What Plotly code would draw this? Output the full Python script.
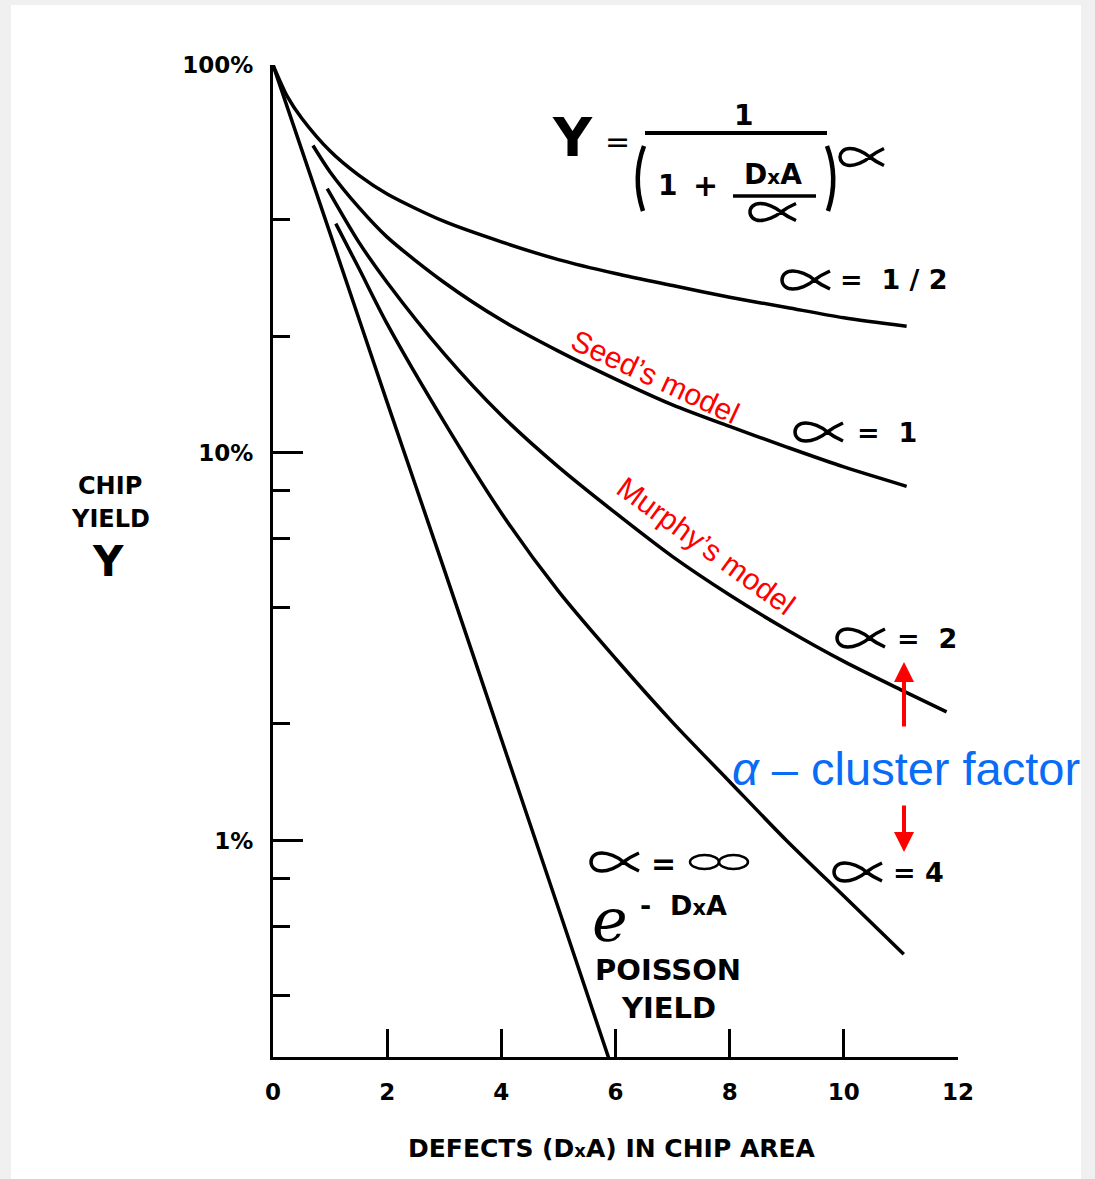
import plotly.graph_objects as go

# ---- data: chip yield (%) versus defects in chip area (D x A) ----
da_half = [0, 0.25, 0.5, 1, 1.5, 2, 3, 4, 5, 6, 7, 8, 9, 10, 11.1]
yield_half = [100, 83, 73, 60, 52, 46.5, 39.5, 35, 31.5, 29, 27, 25.2, 23.7, 22.3, 21.2]

da_one = [0.7, 1, 1.5, 2, 3, 4, 5, 6, 7, 8, 9, 10, 11.1]
yield_one = [62, 53, 43, 36, 27.5, 22, 18.3, 15.5, 13.3, 11.7, 10.35, 9.2, 8.2]

da_two = [0.95, 1.5, 2, 3, 4, 5, 6, 7, 8, 9, 10, 11, 11.8]
yield_two = [48, 35, 27.5, 18, 12.5, 9.2, 7.0, 5.4, 4.3, 3.5, 2.9, 2.45, 2.15]

da_four = [1.1, 1.5, 2, 3, 4, 5, 6, 7, 8, 9, 10, 11.05]
yield_four = [39, 30, 21.5, 12, 7.0, 4.4, 2.95, 2.02, 1.42, 1.0, 0.72, 0.51]

da_poisson = [0, 1, 2, 3, 4, 5, 5.9]
yield_poisson = [100, 36.8, 13.5, 5.0, 1.83, 0.67, 0.27]

x_tickvals = [0, 2, 4, 6, 8, 10, 12]
x_ticktext = ["0", "2", "4", "6", "8", "10", "12"]
y_tickvals = [1, 10, 100]
y_ticktext = ["1%", "10%", "100%"]
y_minorvals = [0.4, 0.6, 0.8, 2, 4, 6, 8, 20, 40]

# ---- page geometry ----
W, H = 1095, 1179
L, R, T, B = 273, 137, 65, 122
PW, PH = W - L - R, H - T - B


def px(x):
    return (x - L) / PW


def py(y):
    return (H - B - y) / PH


BOLD = "DejaVu Sans"
SANS = "Liberation Sans, Arial, sans-serif"

fig = go.Figure()

curves = [
    (da_half, yield_half),
    (da_one, yield_one),
    (da_two, yield_two),
    (da_four, yield_four),
    (da_poisson, yield_poisson),
]
for xs, ys in curves:
    fig.add_trace(go.Scatter(
        x=xs, y=ys, mode="lines",
        line=dict(color="black", width=3.5, shape="spline", smoothing=0.8),
        showlegend=False, hoverinfo="skip",
    ))

annotations = []
shapes = []


def label(text, x, y, size, color="black", family=BOLD, weight="bold", angle=0, anchor="center"):
    annotations.append(dict(
        text=text, x=px(x), y=py(y), xref="paper", yref="paper",
        xanchor=anchor, yanchor="middle", showarrow=False, textangle=angle,
        font=dict(family=family, size=size, color=color, weight=weight),
    ))


def alpha_glyph(cx, cy, w=48, h=18, lw=3.5):
    """Hand-drawn style 'proportional' alpha: a loop on the left, crossed tails on the right."""
    a, b = w / 2, h / 2
    xc = 0.35 * a
    path = (
        f"M {a},{b} Q {0.62 * a},{0.55 * b} {xc},0 "
        f"C {0.1 * a},{-0.6 * b} {-0.3 * a},{-b} {-0.55 * a},{-b} "
        f"C {-0.85 * a},{-b} {-a},{-0.5 * b} {-a},0 "
        f"C {-a},{0.5 * b} {-0.85 * a},{b} {-0.55 * a},{b} "
        f"C {-0.3 * a},{b} {0.1 * a},{0.6 * b} {xc},0 "
        f"Q {0.62 * a},{-0.55 * b} {a},{-b}"
    )
    shapes.append(dict(
        type="path", xref="paper", yref="paper",
        xsizemode="pixel", ysizemode="pixel", xanchor=px(cx), yanchor=py(cy),
        path=path, line=dict(color="black", width=lw),
    ))


def infinity_glyph(cx, cy, w=58, h=14, lw=2.5):
    half = w / 2
    for x0, x1 in [(-half, 0), (0, half)]:
        shapes.append(dict(
            type="circle", xref="paper", yref="paper",
            xsizemode="pixel", ysizemode="pixel", xanchor=px(cx), yanchor=py(cy),
            x0=x0, x1=x1, y0=-h / 2, y1=h / 2, line=dict(color="black", width=lw),
        ))


# formula  Y = 1 / (1 + DxA/alpha)^alpha
label("Y", 572, 137, 54)
label("=", 617, 141, 30, weight="normal")
label("1", 743, 116, 28)
label("1", 667, 186, 28)
label("+", 705, 186, 30)
label("D<span style='font-size:20px'>x</span>A", 773, 174, 28)
alpha_glyph(773, 212, 46, 17)
alpha_glyph(862, 157, 44, 17)

# curve labels
alpha_glyph(806, 280)
label("=  1 / 2", 838, 280, 27, anchor="left")
alpha_glyph(819, 432)
label("=  1", 855, 432, 27, anchor="left")
alpha_glyph(861, 638)
label("=  2", 895, 638, 27, anchor="left")
alpha_glyph(858, 872)
label("= 4", 891, 872, 27, anchor="left")
alpha_glyph(615, 862)
label("=", 663, 863, 30)
infinity_glyph(719, 862)
label("ℯ", 610, 920, 60, weight="normal")
label("-  D<span style='font-size:21px'>x</span>A", 683, 905, 27)
label("POISSON", 668, 970, 29)
label("YIELD", 668, 1008, 29)

# axis titles
label("CHIP", 110, 486, 24)
label("YIELD", 110, 519, 24)
label("Y", 108, 561, 42)
label("DEFECTS (D<span style='font-size:18px'>x</span>A) IN CHIP AREA", 612, 1148, 25)

# model names
label("Seed’s model", 655, 376, 30, color="#ff0000", family=SANS, weight="normal", angle=25)
label("Murphy’s model", 706, 545, 30, color="#ff0000", family=SANS, weight="normal", angle=36)
label("<i>α</i> – cluster factor", 906, 768, 47, color="#0a6cf5", family=SANS, weight="normal")

# red arrows pointing from the cluster-factor note to the curves
for head_y, off in [(662, 66), (852, -48)]:
    annotations.append(dict(
        x=px(904), y=py(head_y), xref="paper", yref="paper", text="",
        showarrow=True, ax=0, ay=off, arrowhead=2, arrowsize=1,
        arrowwidth=4, arrowcolor="#ff0000", standoff=0,
    ))

shapes += [
    # white panel on the grey page
    dict(type="rect", xref="paper", yref="paper", x0=px(11), x1=px(1081),
         y0=py(1179), y1=py(5), fillcolor="white", line=dict(width=0), layer="below"),
    # fraction bars
    dict(type="line", xref="paper", yref="paper", x0=px(645), x1=px(827),
         y0=py(133), y1=py(133), line=dict(color="black", width=4)),
    dict(type="line", xref="paper", yref="paper", x0=px(733), x1=px(816),
         y0=py(196), y1=py(196), line=dict(color="black", width=3.5)),
    # parentheses
    dict(type="path", xref="paper", yref="paper",
         path=f"M {px(644)},{py(146)} Q {px(632)},{py(178)} {px(643)},{py(211)}",
         line=dict(color="black", width=4.5)),
    dict(type="path", xref="paper", yref="paper",
         path=f"M {px(827)},{py(146)} Q {px(839)},{py(178)} {px(828)},{py(211)}",
         line=dict(color="black", width=4.5)),
]

fig.update_layout(
    width=W, height=H,
    margin=dict(l=L, r=R, t=T, b=B, pad=0),
    paper_bgcolor="#f0f0f0", plot_bgcolor="white",
    annotations=annotations, shapes=shapes,
    xaxis=dict(
        range=[0, 12], showgrid=False, zeroline=False,
        showline=True, linecolor="black", linewidth=3,
        ticks="inside", ticklen=28, tickwidth=2.5, tickcolor="black",
        tickmode="array", tickvals=x_tickvals, ticktext=x_ticktext,
        ticklabelstandoff=12,
        tickfont=dict(family=BOLD, size=23, color="black", weight="bold"),
    ),
    yaxis=dict(
        type="log", range=[-0.5575, 2], showgrid=False, zeroline=False,
        showline=True, linecolor="black", linewidth=3,
        ticks="inside", ticklen=30, tickwidth=2.5, tickcolor="black",
        tickmode="array", tickvals=y_tickvals, ticktext=y_ticktext,
        ticklabelstandoff=12,
        tickfont=dict(family=BOLD, size=23, color="black", weight="bold"),
        minor=dict(ticks="inside", ticklen=17, tickwidth=2.5, tickcolor="black",
                   tickmode="array", tickvals=y_minorvals, showgrid=False),
    ),
)

fig.write_html("out.html")
